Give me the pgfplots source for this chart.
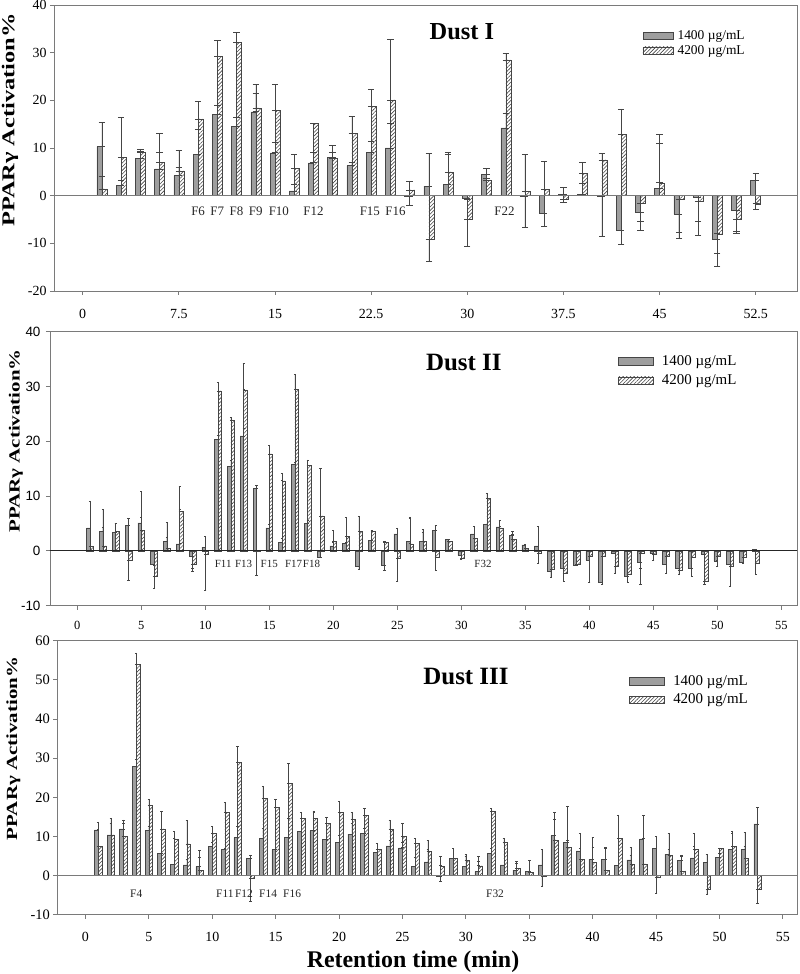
\documentclass[border=0pt]{standalone}
\usepackage{fontspec}
\setmainfont{Liberation Serif}
\newfontfamily\arial{Liberation Sans}
\usepackage{pgfplots}
\pgfplotsset{compat=1.18}
\usepackage{pgfplotstable}
\usetikzlibrary{patterns,patterns.meta}

\definecolor{barfill}{HTML}{9E9E9E}
\definecolor{barline}{HTML}{454545}
\definecolor{axline}{HTML}{7A7A7A}

\newcommand{\fs}[1]{\fontsize{#1}{#1}\selectfont}

% x  gray  gray-tip  hatched  hatched-tip
\pgfplotstableread{
x g gt h ht
1.5 10.3 15.4 1.4 4.0
3.0 2.1 3.3 8.0 16.5
4.5 7.9 9.4 9.1 9.8
6.0 5.6 9.1 7.0 13.1
7.5 4.2 5.9 5.2 9.6
9.0 8.7 14.0 16.1 19.8
10.5 17.1 19.0 29.2 32.6
12.0 14.5 16.4 32.2 34.2
13.5 17.6 21.5 18.4 23.4
15.0 9.0 11.2 17.9 23.4
16.5 1.0 2.4 5.8 8.7
18.0 6.9 9.0 15.1 15.2
19.5 8.1 10.5 7.8 9.1
21.0 6.3 6.9 13.0 16.6
22.5 9.1 11.4 18.7 22.3
24.0 10.0 15.1 20.1 32.7
25.5 -0.2 -2.0 1.2 3.1
27.0 2.0 8.8 -9.1 -13.7
28.5 2.4 9.2 5.0 8.7
30.0 -0.6 -0.8 -4.9 -10.7
31.5 4.5 5.7 3.2 3.6
33.0 14.2 17.2 28.5 29.9
34.5 -0.2 -6.6 0.9 8.6
36.0 -3.6 -6.5 1.3 7.2
37.5 0.3 1.8 -0.8 -1.4
39.0 0.2 2.6 4.7 7.0
40.5 -0.1 -8.5 7.5 8.8
42.0 -7.2 -10.1 12.8 18.2
43.5 -3.4 -5.4 -1.5 -7.3
45.0 1.5 11.0 2.7 12.8
46.5 -3.9 -8.9 -0.8 -7.7
48.0 -0.3 -8.4 -1.1 -5.3
49.5 -9.1 -12.0 -8.0 -14.9
51.0 -3.1 -7.9 -5.0 -7.5
52.5 3.2 4.7 -1.7 -2.9
}\tA

\pgfplotstableread{
x g gt h ht
1 4.2 9.1 0.8 0.9
2 3.6 4.3 0.9 7.6
3 3.4 5.0 3.5 5.0
4 4.6 5.9 -1.7 -5.4
5 5.1 6.1 3.8 10.9
6 -2.4 -2.6 -4.6 -6.8
7 1.8 5.2 0.4 2.4
8 1.3 11.7 7.2 7.5
9 -0.9 -3.2 -2.5 -3.7
10 0.7 2.6 -0.6 -7.2
11 20.4 21.1 29.2 30.8
12 15.4 16.5 23.9 24.4
13 21.0 22.3 29.4 34.2
14 11.4 12.0 -0.1 -4.4
15 4.2 4.9 17.7 19.3
16 1.5 2.3 12.8 14.1
17 15.8 16.2 29.5 32.2
18 5.0 5.5 15.6 16.6
19 -1.2 -1.2 6.4 15.1
20 0.9 1.5 1.8 3.8
21 1.4 1.6 2.7 6.1
22 -2.8 -3.4 3.5 6.4
23 1.9 1.9 3.5 3.7
24 -2.6 -3.5 1.5 1.7
25 3.1 4.2 -1.4 -5.6
26 1.7 6.0 1.3 6.2
27 1.7 3.4 1.8 3.9
28 3.7 4.7 -1.2 -3.5
29 2.1 2.1 1.7 1.7
30 -0.8 -0.8 -1.4 -1.5
31 3.1 4.4 2.3 2.3
32 4.9 4.9 9.6 10.6
33 4.4 5.5 4.2 4.2
34 2.8 3.5 2.1 3.1
35 1.1 1.2 0.5 0.5
36 0.9 4.5 -0.5 -2.3
37 -3.7 -4.8 -3.4 -4.8
38 -3.1 -3.1 -4.0 -5.5
39 -2.6 -2.6 -2.4 -2.4
40 -1.7 -5.8 -0.9 -0.9
41 -5.7 -6.1 -0.9 -0.9
42 -0.5 -0.5 -2.8 -4.0
43 -4.6 -5.8 -4.3 -4.3
44 -2.1 -3.1 -0.4 -6.1
45 -0.4 -0.4 -0.6 -1.8
46 -2.4 -4.1 -0.9 -0.9
47 -3.1 -4.2 -3.5 -3.5
48 -3.1 -4.7 -1.2 -1.2
49 -0.7 -0.7 -5.5 -6.1
50 -1.8 -2.9 -0.9 -0.9
51 -2.4 -6.5 -2.8 -2.8
52 -2.0 -2.2 -1.2 -1.2
53 0.3 0.3 -2.3 -4.3
}\tB

\pgfplotstableread{
x g gt h ht
1 11.7 13.7 7.4 7.4
2 10.4 13.4 10.4 14.7
3 11.9 13.4 10.0 14.2
4 27.9 29.6 54.0 56.9
5 11.5 12.5 17.9 19.4
6 5.7 5.7 11.9 16.5
7 2.9 2.9 9.4 11.2
8 2.7 4.2 8.1 14.0
9 2.3 6.5 1.3 4.7
10 7.4 8.4 10.8 12.5
11 6.6 7.0 16.1 18.7
12 9.7 12.5 28.9 33.0
13 4.3 5.3 -0.7 -6.5
14 9.5 12.1 19.8 22.9
15 6.6 6.6 17.4 19.4
16 9.7 14.7 23.6 28.7
17 11.3 11.3 14.7 16.1
18 11.5 16.5 14.7 16.1
19 9.3 9.3 13.4 14.8
20 8.4 10.4 16.2 18.9
21 10.6 13.4 14.4 16.1
22 10.8 12.1 15.3 17.1
23 6.0 6.7 6.8 8.3
24 7.6 9.1 11.9 14.2
25 7.1 8.5 10.1 13.4
26 2.3 4.7 8.3 9.4
27 3.5 6.6 6.1 9.0
28 -0.3 -1.5 2.5 4.9
29 4.4 7.0 4.4 7.0
30 2.3 5.5 3.8 4.9
31 1.0 4.9 2.5 3.6
32 5.7 7.0 16.5 17.2
33 2.7 2.7 8.5 9.4
34 1.4 3.6 1.9 3.2
35 1.0 3.8 0.9 0.9
36 2.7 6.7 -0.3 -2.8
37 10.2 14.5 9.1 16.2
38 8.4 17.8 7.2 9.0
39 6.3 10.7 4.2 7.0
40 4.2 9.8 3.4 7.2
41 4.2 7.2 1.3 6.9
42 2.6 2.6 9.5 15.5
43 4.0 7.2 2.9 5.3
44 9.4 15.3 3.0 3.0
45 7.0 10.0 -0.5 -4.5
46 5.5 6.8 5.1 10.7
47 3.8 5.3 1.2 5.0
48 4.5 10.7 6.7 7.6
49 3.4 5.5 -3.5 -4.8
50 4.6 5.7 6.9 6.9
51 6.7 11.4 7.4 10.8
52 6.6 11.0 4.3 7.6
53 13.2 17.5 -3.5 -7.2
}\tC

\pgfplotsset{
  dustaxis/.style={
    scale only axis,
    axis line style={axline, line width=0.9bp},
    tick style={axline, line width=0.9bp},
    tick align=outside,
    major tick length=4bp,
    xtick pos=lower, ytick pos=left,
    /pgf/number format/assume math mode=true,
    legend cell align=left,
  },
  grayb/.style={ybar, fill=barfill, draw=barline, line width=0.5bp},
  hatchb/.style={ybar, pattern={Lines[angle=45, distance=2.6pt, line width=0.6pt]}, pattern color=barline, draw=barline, line width=0.5bp},
  errs/.style={/pgfplots/error bars/y dir=both, /pgfplots/error bars/y explicit,
    /pgfplots/error bars/error bar style={barline, line width=0.5bp},
    /pgfplots/error bars/error mark options={rotate=90, barline, line width=0.6bp, mark size=#1}},
  lgA/.style={legend image code/.code={\draw[##1] (0bp,-3.8bp) rectangle (30bp,3.8bp);}},
  lgB/.style={legend image code/.code={\draw[##1] (0bp,-3.7bp) rectangle (35bp,3.7bp);}},
}

\newcommand{\ylab}[1]{\scalebox{1}[0.74]{\fs{#1}\bfseries PPARγ Activation\%}}

\begin{document}
\begin{tikzpicture}
\path[use as bounding box] (0bp,0bp) rectangle (800bp,974bp);

% ---------------- Dust I ----------------
\begin{axis}[dustaxis, at={(54bp,683bp)}, anchor=south west,
  width=743bp, height=286bp,
  xmin=-2.24, xmax=55.72, ymin=-20, ymax=40,
  xtick={0,7.5,15,22.5,30,37.5,45,52.5},
  ytick={-20,-10,0,10,20,30,40},
  xticklabel style={font=\fs{14}, yshift=-11bp},
  yticklabel style={font=\fs{14}},
  legend style={at={(0.792,0.915)}, anchor=north west, draw=none, fill=none,
    inner sep=0pt, row sep=2.5bp, font=\fs{13.5},
    nodes={inner sep=1bp}, /tikz/every even column/.append style={column sep=0pt}},
]
\addplot[grayb, bar width=0.39, bar shift=-0.195, errs=3.2bp, lgA]
  table[x=x, y=g, y error plus expr={max(\thisrow{gt}-\thisrow{g},0)},
        y error minus expr={max(\thisrow{g}-\thisrow{gt},0)}] {\tA};
\addlegendentry{~1400 µg/mL}
\addplot[hatchb, bar width=0.39, bar shift=0.195, errs=3.2bp, lgA]
  table[x=x, y=h, y error plus expr={max(\thisrow{ht}-\thisrow{h},0)},
        y error minus expr={max(\thisrow{h}-\thisrow{ht},0)}] {\tA};
\addlegendentry{~4200 µg/mL}
\draw[axline, line width=0.9bp] (axis cs:-5,0) -- (axis cs:60,0);
\node[font=\fs{24.5}\bfseries] at (rel axis cs:0.549,0.906) {Dust I};
\begin{scope}[every node/.style={font=\fs{13}, text=black!85}]
\node at (axis cs:9,-3.3) {F6};
\node at (axis cs:10.5,-3.3) {F7};
\node at (axis cs:12,-3.3) {F8};
\node at (axis cs:13.5,-3.3) {F9};
\node at (axis cs:15.3,-3.3) {F10};
\node at (axis cs:18,-3.3) {F12};
\node at (axis cs:22.4,-3.3) {F15};
\node at (axis cs:24.4,-3.3) {F16};
\node at (axis cs:32.9,-3.3) {F22};
\end{scope}
\end{axis}

% ---------------- Dust II ----------------
\begin{axis}[dustaxis, at={(50bp,368.3bp)}, anchor=south west,
  width=747bp, height=274bp,
  xmin=-2.13, xmax=56.23, ymin=-10, ymax=40,
  xtick={0,5,...,55},
  ytick={-10,0,10,20,30,40},
  xticklabel style={font=\fs{12.5}, yshift=-8bp},
  yticklabel style={font=\arial\fs{13.5}, xshift=-2bp},
  legend style={at={(0.76,0.918)}, anchor=north west, draw=none, fill=none,
    inner sep=0pt, row sep=6bp, font=\fs{15},
    nodes={inner sep=1bp}, /tikz/every even column/.append style={column sep=0pt}},
]
\addplot[grayb, bar width=0.27, bar shift=-0.135, errs=1.1bp, lgB]
  table[x=x, y=g, y error plus expr={max(\thisrow{gt}-\thisrow{g},0)},
        y error minus expr={max(\thisrow{g}-\thisrow{gt},0)}] {\tB};
\addlegendentry{~~1400 µg/mL}
\addplot[hatchb, bar width=0.27, bar shift=0.135, errs=1.1bp, lgB]
  table[x=x, y=h, y error plus expr={max(\thisrow{ht}-\thisrow{h},0)},
        y error minus expr={max(\thisrow{h}-\thisrow{ht},0)}] {\tB};
\addlegendentry{~~4200 µg/mL}
\draw[black!85, line width=0.9bp] (axis cs:-5,0) -- (axis cs:60,0);
\node[font=\fs{25}\bfseries] at (rel axis cs:0.554,0.886) {Dust II};
\begin{scope}[every node/.style={font=\fs{11}, text=black!85}]
\node at (axis cs:11.4,-2.4) {F11};
\node at (axis cs:13.0,-2.4) {F13};
\node at (axis cs:15.0,-2.4) {F15};
\node at (axis cs:16.9,-2.4) {F17};
\node at (axis cs:18.3,-2.4) {F18};
\node at (axis cs:31.7,-2.4) {F32};
\end{scope}
\end{axis}

% ---------------- Dust III ----------------
\begin{axis}[dustaxis, at={(57.3bp,59.3bp)}, anchor=south west,
  width=739.7bp, height=274bp,
  xmin=-2.22, xmax=56.11, ymin=-10, ymax=60,
  xtick={0,5,...,55},
  ytick={-10,0,10,20,30,40,50,60},
  xticklabel style={font=\fs{14}, yshift=-10bp},
  yticklabel style={font=\fs{14.5}},
  legend style={at={(0.773,0.877)}, anchor=north west, draw=none, fill=none,
    inner sep=0pt, row sep=5bp, font=\fs{15},
    nodes={inner sep=1bp}, /tikz/every even column/.append style={column sep=0pt}},
]
\addplot[grayb, bar width=0.3, bar shift=-0.15, errs=1.2bp, lgB]
  table[x=x, y=g, y error plus expr={max(\thisrow{gt}-\thisrow{g},0)},
        y error minus expr={max(\thisrow{g}-\thisrow{gt},0)}] {\tC};
\addlegendentry{~~1400 µg/mL}
\addplot[hatchb, bar width=0.3, bar shift=0.15, errs=1.2bp, lgB]
  table[x=x, y=h, y error plus expr={max(\thisrow{ht}-\thisrow{h},0)},
        y error minus expr={max(\thisrow{h}-\thisrow{ht},0)}] {\tC};
\addlegendentry{~~4200 µg/mL}
\draw[axline, line width=0.9bp] (axis cs:-5,0) -- (axis cs:60,0);
\node[font=\fs{25}\bfseries] at (rel axis cs:0.5525,0.871) {Dust III};
\begin{scope}[every node/.style={font=\fs{11.5}, text=black!85}]
\node at (axis cs:4,-4.7) {F4};
\node at (axis cs:11,-4.7) {F11};
\node at (axis cs:12.5,-4.7) {F12};
\node at (axis cs:14.4,-4.7) {F14};
\node at (axis cs:16.3,-4.7) {F16};
\node at (axis cs:32.3,-4.7) {F32};
\end{scope}
\end{axis}

% axis titles
\node[rotate=90, inner sep=0pt] at (10bp,854bp) {\ylab{24.5}};
\node[rotate=90, inner sep=0pt] at (16bp,533bp) {\ylab{21}};
\node[rotate=90, inner sep=0pt] at (13.5bp,225.5bp) {\ylab{21}};
\node[font=\fs{24}\bfseries] at (413bp,12bp) {Retention time (min)};
\end{tikzpicture}
\end{document}
